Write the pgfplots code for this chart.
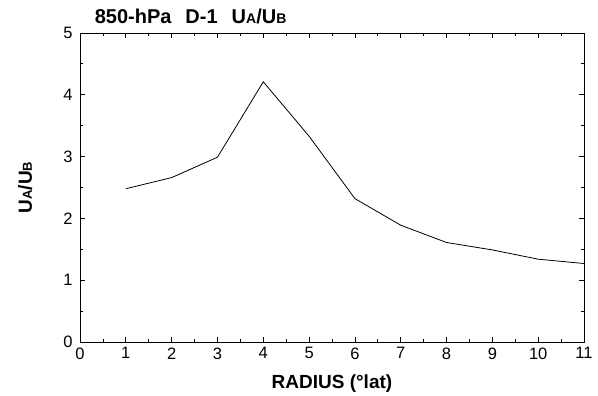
\documentclass[border=0pt]{standalone}
\usepackage{fontspec}
\setmainfont{Liberation Sans}
\usepackage{pgfplots}
\pgfplotsset{compat=1.18}
\begin{document}
\begin{tikzpicture}
\begin{axis}[
  scale only axis,
  width=504pt, height=309pt,
  xmin=0, xmax=11, ymin=0, ymax=5,
  xtick={0,1,...,11}, ytick={0,1,...,5},
  minor x tick num=1, minor y tick num=1,
  tick align=inside,
  major tick length=5pt, minor tick length=3pt,
  tick style={black, line width=0.8pt},
  axis line style={line width=0.9pt},
  ticklabel style={font=\fontsize{16.5}{17}\selectfont},
  /pgf/number format/assume math mode=true,
  xticklabel style={yshift=-2pt},
  yticklabel style={xshift=-4pt},
  xlabel={\bfseries RADIUS (°lat)},
  ylabel={\bfseries U{\fontsize{13}{13}\selectfont A}/U{\fontsize{13}{13}\selectfont B}},
  xlabel style={font=\fontsize{19}{20}\selectfont, at={(axis description cs:0.5,-0.133)}, anchor=center},
  ylabel style={font=\fontsize{19}{20}\selectfont, at={(axis description cs:-0.109,0.5)}, anchor=center},
  clip=false,
]
\addplot[black, line width=0.8pt] coordinates {
 (1,2.48) (2,2.66) (3,2.99) (4,4.21) (5,3.33) (6,2.32)
 (7,1.89) (8,1.61) (9,1.49) (10,1.34) (11,1.27)
};
\node[anchor=base west, font=\bfseries\fontsize{20}{21}\selectfont, inner sep=0pt] at (axis description cs:0.029,1.03)
  {850-hPa\hspace{14pt}D-1\hspace{14pt}U{\fontsize{14}{14}\selectfont A}/U{\fontsize{14}{14}\selectfont B}};
\end{axis}
\pgfresetboundingbox
\path (-80pt,-54pt) rectangle (518pt,342pt);
\end{tikzpicture}
\end{document}
